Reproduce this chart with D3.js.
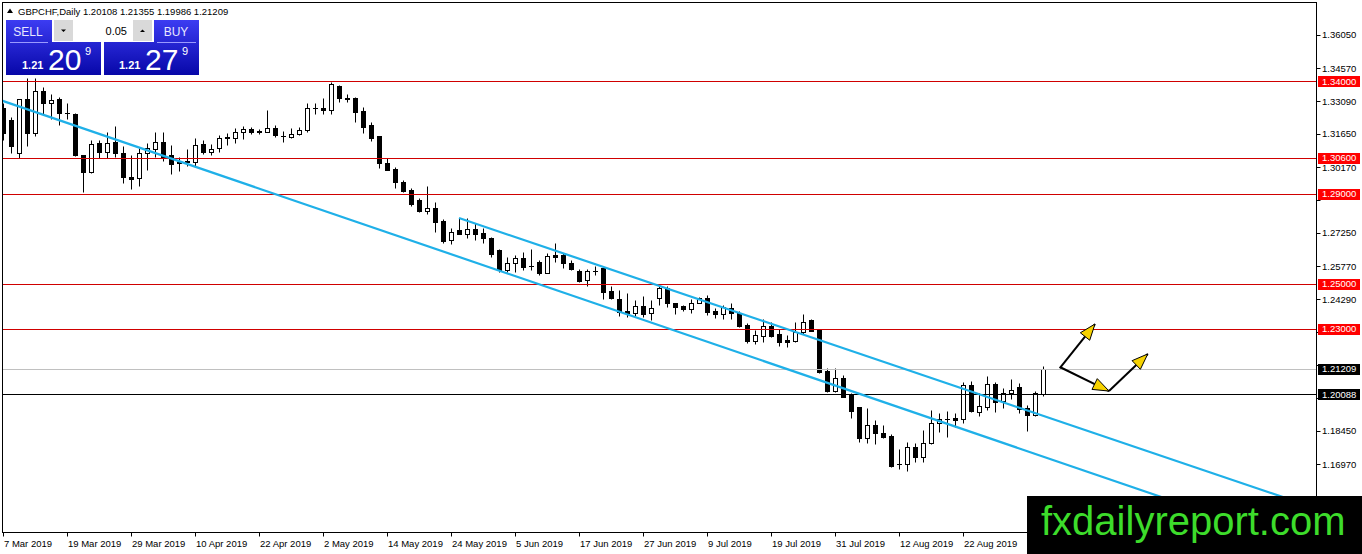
<!DOCTYPE html>
<html>
<head>
<meta charset="utf-8">
<script src="https://d3js.org/d3.v7.min.js"></script>
<style>
html, body { margin: 0; padding: 0; background: #fff; }
svg { display: block; }
text { font-family: "Liberation Sans", Arial, sans-serif; }
</style>
</head>
<body>
<div id="chart"></div>
<script>
// GBPCHF daily, 7 Mar 2019 .. 5 Sep 2019 (one value per trading day)
var symbol = "GBPCHF,Daily";
var firstDay = "2019-03-07", lastDay = "2019-09-05";

var open = [
1.3280,1.3227,1.3080,1.3320,1.3169,1.3356,1.3302,1.3320,1.3258,1.3253,
1.3071,1.2996,1.3124,1.3084,1.3129,1.3080,1.2973,1.2968,1.3080,1.3098,
1.3129,1.3071,1.3040,1.3044,1.3040,1.3120,1.3084,1.3102,1.3147,1.3147,
1.3173,1.3187,1.3178,1.3173,1.3191,1.3156,1.3151,1.3164,1.3182,1.3280,
1.3280,1.3271,1.3378,1.3324,1.3324,1.3267,1.3204,1.3156,1.3036,1.3009,
1.2951,1.2916,1.2871,1.2822,1.2836,1.2778,1.2693,1.2738,1.2720,1.2742,
1.2724,1.2702,1.2649,1.2560,1.2591,1.2613,1.2578,1.2596,1.2547,1.2627,
1.2627,1.2591,1.2556,1.2516,1.2556,1.2569,1.2467,1.2431,1.2378,1.2369,
1.2400,1.2369,1.2436,1.2480,1.2413,1.2400,1.2387,1.2413,1.2436,1.2378,
1.2364,1.2391,1.2369,1.2316,1.2244,1.2267,1.2311,1.2276,1.2249,1.2244,
1.2284,1.2338,1.2293,1.2111,1.2022,1.2080,1.2004,1.1951,1.1813,1.1871,
1.1836,1.1822,1.1698,1.1698,1.1773,1.1729,1.1791,1.1880,1.1898,1.1902,
1.1898,1.2049,1.1929,1.1951,1.2053,1.1978,1.2013,1.2040,1.1947,1.1916,
1.20108];
var high = [
1.3302,1.3240,1.3320,1.3413,1.3413,1.3373,1.3342,1.3329,1.3302,1.3258,
1.3071,1.3138,1.3138,1.3173,1.3200,1.3111,1.3071,1.3102,1.3124,1.3173,
1.3173,1.3116,1.3062,1.3098,1.3147,1.3138,1.3120,1.3160,1.3169,1.3191,
1.3200,1.3196,1.3187,1.3271,1.3204,1.3178,1.3191,1.3196,1.3302,1.3302,
1.3324,1.3396,1.3382,1.3342,1.3329,1.3284,1.3218,1.3156,1.3058,1.3018,
1.2960,1.2924,1.2880,1.2933,1.2862,1.2787,1.2747,1.2791,1.2791,1.2769,
1.2747,1.2707,1.2653,1.2618,1.2627,1.2640,1.2653,1.2604,1.2636,1.2680,
1.2636,1.2604,1.2564,1.2564,1.2578,1.2573,1.2489,1.2471,1.2458,1.2427,
1.2444,1.2427,1.2489,1.2489,1.2413,1.2404,1.2431,1.2440,1.2449,1.2391,
1.2404,1.2413,1.2378,1.2324,1.2293,1.2342,1.2329,1.2298,1.2271,1.2329,
1.2364,1.2342,1.2298,1.2124,1.2124,1.2093,1.2013,1.1951,1.1947,1.1893,
1.1871,1.1831,1.1764,1.1796,1.1791,1.1849,1.1938,1.1924,1.1933,1.1924,
1.2062,1.2067,1.2013,1.2089,1.2062,1.2036,1.2076,1.2058,1.1960,1.2022,
1.21355];
var low = [
1.3138,1.3080,1.3058,1.3111,1.3156,1.3253,1.3231,1.3204,1.3231,1.3067,
1.2907,1.2991,1.3058,1.3058,1.3062,1.2947,1.2920,1.2933,1.3004,1.3062,
1.3044,1.2987,1.3000,1.3022,1.3022,1.3076,1.3071,1.3084,1.3116,1.3124,
1.3142,1.3164,1.3164,1.3173,1.3151,1.3129,1.3147,1.3160,1.3173,1.3253,
1.3253,1.3253,1.3307,1.3307,1.3218,1.3169,1.3133,1.3013,1.3004,1.2924,
1.2907,1.2844,1.2818,1.2809,1.2729,1.2680,1.2676,1.2720,1.2702,1.2693,
1.2680,1.2618,1.2551,1.2551,1.2551,1.2560,1.2560,1.2538,1.2547,1.2596,
1.2569,1.2560,1.2507,1.2489,1.2538,1.2431,1.2431,1.2356,1.2351,1.2356,
1.2351,1.2338,1.2404,1.2396,1.2364,1.2378,1.2369,1.2413,1.2360,1.2347,
1.2342,1.2342,1.2307,1.2236,1.2231,1.2240,1.2262,1.2222,1.2218,1.2240,
1.2276,1.2289,1.2102,1.2018,1.2018,1.1996,1.1902,1.1796,1.1791,1.1787,
1.1813,1.1684,1.1676,1.1667,1.1707,1.1707,1.1787,1.1840,1.1818,1.1862,
1.1880,1.1929,1.1911,1.1938,1.1929,1.1947,1.1987,1.1924,1.1844,1.1911,
1.19986];
var close = [
1.3169,1.3111,1.3320,1.3169,1.3356,1.3302,1.3316,1.3258,1.3256,1.3071,
1.2996,1.3120,1.3084,1.3124,1.3080,1.2973,1.2964,1.3080,1.3102,1.3129,
1.3062,1.3031,1.3036,1.3040,1.3116,1.3084,1.3098,1.3147,1.3149,1.3173,
1.3187,1.3173,1.3173,1.3191,1.3160,1.3154,1.3164,1.3182,1.3280,1.3282,
1.3271,1.3387,1.3324,1.3322,1.3262,1.3196,1.3147,1.3036,1.3004,1.2951,
1.2911,1.2853,1.2822,1.2836,1.2773,1.2689,1.2729,1.2720,1.2742,1.2720,
1.2702,1.2631,1.2560,1.2591,1.2613,1.2573,1.2576,1.2547,1.2622,1.2618,
1.2591,1.2564,1.2511,1.2556,1.2554,1.2462,1.2436,1.2373,1.2369,1.2400,
1.2364,1.2391,1.2480,1.2413,1.2396,1.2387,1.2413,1.2436,1.2373,1.2364,
1.2396,1.2369,1.2311,1.2244,1.2271,1.2311,1.2267,1.2240,1.2240,1.2284,
1.2329,1.2289,1.2107,1.2022,1.2080,1.1996,1.1933,1.1813,1.1871,1.1836,
1.1818,1.1689,1.1696,1.1773,1.1729,1.1791,1.1880,1.1898,1.1896,1.1893,
1.2049,1.1933,1.1956,1.2053,1.1973,1.2013,1.2027,1.1942,1.1916,1.2013,
1.21209];

var priceTicks = [1.36050,1.34570,1.33090,1.31650,1.30170,1.28690,1.27250,1.25770,
                  1.24290,1.22850,1.21370,1.19890,1.18450,1.16970,1.15490];
var dateTicks = ["7 Mar 2019","19 Mar 2019","29 Mar 2019","10 Apr 2019","22 Apr 2019",
                 "2 May 2019","14 May 2019","24 May 2019","5 Jun 2019","17 Jun 2019",
                 "27 Jun 2019","9 Jul 2019","19 Jul 2019","31 Jul 2019","12 Aug 2019","22 Aug 2019"];

// horizontal lines drawn on the chart
var redLevels = [1.34000, 1.30600, 1.29000, 1.25000, 1.23000];
var blackLevel = 1.20088;
var bidLevel = 1.21209;

// trend lines: [bar index, price] pairs
var channelLow = [[0, 1.3311], [130, 1.1731]];
var channelHigh = [[57, 1.2791], [130, 1.1912]];

// projected path arrows: [bar index, price] pairs
var arrowUp = [[132.1, 1.2124], [136.5, 1.2320]];
var arrowDown = [[132.1, 1.2129], [138.25, 1.2022]];
var arrowRebound = [[138.25, 1.2022], [143.1, 1.2187]];

var sellQuote = ["1.21", "20", "9"];
var buyQuote = ["1.21", "27", "9"];
var lotSize = "0.05";

var W = 1362, H = 554;
var L = 2.5, T = 2.5, R = 1316.5, B = 532.5;
var markTop = 496; // top of the watermark band

var svg = d3.select("#chart").append("svg").attr("width", W).attr("height", H);
var defs = svg.append("defs");
defs.append("clipPath").attr("id", "plotclip").append("rect")
  .attr("x", L + 0.5).attr("y", T + 0.5).attr("width", R - L - 1).attr("height", B - T - 1);
var grad = defs.append("linearGradient").attr("id", "pbox")
  .attr("x1", 0).attr("y1", 0).attr("x2", 0).attr("y2", 1);
grad.append("stop").attr("offset", "0%").attr("stop-color", "#3c3cf2");
grad.append("stop").attr("offset", "100%").attr("stop-color", "#0707a8");

var parseISO = d3.utcParse("%Y-%m-%d");
var parseTick = d3.utcParse("%d %b %Y");
var days = d3.utcDays(parseISO(firstDay), d3.utcDay.offset(parseISO(lastDay), 1))
  .filter(function (d) { var w = d.getUTCDay(); return w !== 0 && w !== 6; });

var x = d3.scaleLinear().domain([0, days.length - 1]).range([3, 1043]);
var y = d3.scaleLinear().domain([1.13956, 1.376]).range([532, 0]);

var bars = days.map(function (d, i) {
  return {i: i, date: d, o: open[i], h: high[i], l: low[i], c: close[i]};
});

var plot = svg.append("g").attr("clip-path", "url(#plotclip)");

// candles
var cg = plot.append("g");
cg.selectAll("line.wick").data(bars).enter().append("line")
  .attr("x1", function (d) { return Math.round(x(d.i)) + 0.5; })
  .attr("x2", function (d) { return Math.round(x(d.i)) + 0.5; })
  .attr("y1", function (d) { return Math.round(y(d.h)) + 0.5; })
  .attr("y2", function (d) { return Math.round(y(d.l)) + 0.5; })
  .attr("stroke", "#000").attr("stroke-width", 1);

cg.selectAll("g.body").data(bars).enter().append("g").each(function (d) {
  var g = d3.select(this);
  var cx = Math.round(x(d.i));
  var t = Math.round(y(Math.max(d.o, d.c))), b = Math.round(y(Math.min(d.o, d.c)));
  if (b - t < 1) {
    g.append("line").attr("x1", cx - 2).attr("x2", cx + 3)
      .attr("y1", t + 0.5).attr("y2", t + 0.5).attr("stroke", "#000");
  } else {
    g.append("rect").attr("x", cx - 1.5).attr("y", t + 0.5)
      .attr("width", 4).attr("height", b - t)
      .attr("fill", d.c >= d.o ? "#fff" : "#000").attr("stroke", "#000");
  }
});

// horizontal levels
plot.selectAll("line.lvl").data(redLevels).enter().append("line")
  .attr("x1", L).attr("x2", R)
  .attr("y1", function (d) { return Math.round(y(d)) + 0.5; })
  .attr("y2", function (d) { return Math.round(y(d)) + 0.5; })
  .attr("stroke", "#d00000");
plot.append("line").attr("x1", L).attr("x2", R)
  .attr("y1", Math.round(y(bidLevel)) + 0.5).attr("y2", Math.round(y(bidLevel)) + 0.5)
  .attr("stroke", "#c0c0c0");
plot.append("line").attr("x1", L).attr("x2", R)
  .attr("y1", Math.round(y(blackLevel)) + 0.5).attr("y2", Math.round(y(blackLevel)) + 0.5)
  .attr("stroke", "#000");

// trend lines
function trendRay(pts, fromIdx, toIdx) {
  var k = (pts[1][1] - pts[0][1]) / (pts[1][0] - pts[0][0]);
  var p = function (i) { return pts[0][1] + k * (i - pts[0][0]); };
  return [[x(fromIdx), y(p(fromIdx))], [x(toIdx), y(p(toIdx))]];
}
var line = d3.line();
plot.append("path").attr("d", line(trendRay(channelLow, -2, 170)))
  .attr("stroke", "#1fb0e8").attr("stroke-width", 2.2).attr("fill", "none");
plot.append("path").attr("d", line(trendRay(channelHigh, channelHigh[0][0], 170)))
  .attr("stroke", "#1fb0e8").attr("stroke-width", 2.2).attr("fill", "none");

// arrows
function drawArrow(pts) {
  var p0 = [x(pts[0][0]), y(pts[0][1])], p1 = [x(pts[1][0]), y(pts[1][1])];
  var dx = p1[0] - p0[0], dy = p1[1] - p0[1], len = Math.sqrt(dx * dx + dy * dy);
  var ux = dx / len, uy = dy / len, hl = 16, hw = 6;
  plot.append("path").attr("d", line([p0, p1]))
    .attr("stroke", "#000").attr("stroke-width", 2).attr("fill", "none");
  var bx = p1[0] - ux * hl, by = p1[1] - uy * hl;
  plot.append("path")
    .attr("d", line([p1, [bx - uy * hw, by + ux * hw], [bx + uy * hw, by - ux * hw]]) + "Z")
    .attr("fill", "#f6d200").attr("stroke", "#000").attr("stroke-width", 1);
}
drawArrow(arrowUp);
drawArrow(arrowDown);
drawArrow(arrowRebound);

// frame
svg.append("rect").attr("x", L).attr("y", T).attr("width", R - L).attr("height", B - T)
  .attr("fill", "none").attr("stroke", "#000");

// price axis; labels hidden behind a level tag or the watermark are not printed
var tags = redLevels.map(function (v) { return {v: v, bg: "#ff0000"}; })
  .concat([{v: bidLevel, bg: "#000"}, {v: blackLevel, bg: "#000"}]);
var shownTicks = priceTicks.filter(function (t) {
  return y(t) + 5 < markTop &&
    tags.every(function (g) { return Math.abs(y(t) - y(g.v)) >= 8; });
});
var ya = svg.append("g").style("font-size", "9.5px");
ya.selectAll("line.tk").data(priceTicks).enter().append("line")
  .attr("x1", R).attr("x2", R + 4)
  .attr("y1", function (d) { return Math.round(y(d)) + 0.5; })
  .attr("y2", function (d) { return Math.round(y(d)) + 0.5; })
  .attr("stroke", "#000");
ya.selectAll("text.tk").data(shownTicks).enter().append("text")
  .attr("x", 1322).attr("y", function (d) { return y(d) + 3.5; })
  .attr("fill", "#000").text(function (d) { return d.toFixed(5); });

var tg = ya.selectAll("g.tag").data(tags).enter().append("g");
tg.append("rect").attr("x", 1318).attr("y", function (d) { return Math.round(y(d.v)) - 5; })
  .attr("width", 42).attr("height", 11).attr("fill", function (d) { return d.bg; });
tg.append("text").attr("x", 1322).attr("y", function (d) { return y(d.v) + 3.5; })
  .attr("fill", "#fff").text(function (d) { return d.v.toFixed(5); });

// time axis
var xa = svg.append("g").style("font-size", "9.5px");
var tickIdx = dateTicks.map(function (s) {
  var t = +parseTick(s);
  return {label: s, i: days.findIndex(function (d) { return +d === t; })};
});
xa.selectAll("line").data(tickIdx).enter().append("line")
  .attr("x1", function (d) { return Math.round(x(d.i)) + 0.5; })
  .attr("x2", function (d) { return Math.round(x(d.i)) + 0.5; })
  .attr("y1", B).attr("y2", B + 4).attr("stroke", "#000");
xa.selectAll("text").data(tickIdx).enter().append("text")
  .attr("x", function (d) { return Math.round(x(d.i)) + 1; }).attr("y", 547)
  .attr("fill", "#000").text(function (d) { return d.label; });

// header
var last = bars[bars.length - 1];
svg.append("path").attr("d", "M7,13L10,8.5L13,13Z").attr("fill", "#000");
svg.append("text").attr("x", 18).attr("y", 14.5).style("font-size", "9.5px").attr("fill", "#000")
  .text(symbol + "  " + [last.o, last.h, last.l, last.c].map(function (v) { return v.toFixed(5); }).join(" "));

// one-click trading panel
var pn = svg.append("g");
pn.append("rect").attr("x", 6).attr("y", 20).attr("width", 95).attr("height", 55).attr("fill", "url(#pbox)");
pn.append("rect").attr("x", 104).attr("y", 20).attr("width", 95).attr("height", 55).attr("fill", "url(#pbox)");
pn.append("rect").attr("x", 52).attr("y", 18).attr("width", 102).attr("height", 24).attr("fill", "#fff");
pn.append("rect").attr("x", 54).attr("y", 20).attr("width", 19).attr("height", 21).attr("fill", "#d9d9d9");
pn.append("rect").attr("x", 133).attr("y", 20).attr("width", 19).attr("height", 21).attr("fill", "#d9d9d9");
pn.append("path").attr("d", "M61,29.5L66,29.5L63.5,32Z").attr("fill", "#000");
pn.append("path").attr("d", "M140,32L145,32L142.5,29.5Z").attr("fill", "#000");
pn.append("text").attr("x", 127).attr("y", 35).attr("text-anchor", "end")
  .style("font-size", "11px").attr("fill", "#000").text(lotSize);
pn.append("text").attr("x", 28).attr("y", 36).attr("text-anchor", "middle")
  .style("font-size", "12px").attr("fill", "#e8e8ff").text("SELL");
pn.append("text").attr("x", 176).attr("y", 36).attr("text-anchor", "middle")
  .style("font-size", "12px").attr("fill", "#e8e8ff").text("BUY");
pn.append("line").attr("x1", 10).attr("x2", 48).attr("y1", 42.5).attr("y2", 42.5).attr("stroke", "#9a9aff");
pn.append("line").attr("x1", 157).attr("x2", 196).attr("y1", 42.5).attr("y2", 42.5).attr("stroke", "#9a9aff");

function quote(q, x0) {
  pn.append("text").attr("x", x0).attr("y", 69).style("font-size", "11px")
    .style("font-weight", "bold").attr("fill", "#fff").text(q[0]);
  pn.append("text").attr("x", x0 + 26).attr("y", 70).style("font-size", "30px")
    .attr("fill", "#fff").text(q[1]);
  pn.append("text").attr("x", x0 + 63).attr("y", 55).style("font-size", "11px")
    .attr("fill", "#fff").text(q[2]);
}
quote(sellQuote, 22);
quote(buyQuote, 119);

// watermark
svg.append("rect").attr("x", 1027).attr("y", markTop).attr("width", W - 1027).attr("height", H - markTop).attr("fill", "#000");
svg.append("text").attr("x", 1041).attr("y", 535).style("font-size", "40px")
  .attr("fill", "#3ddc2b").text("fxdailyreport.com");
</script>
</body>
</html>
